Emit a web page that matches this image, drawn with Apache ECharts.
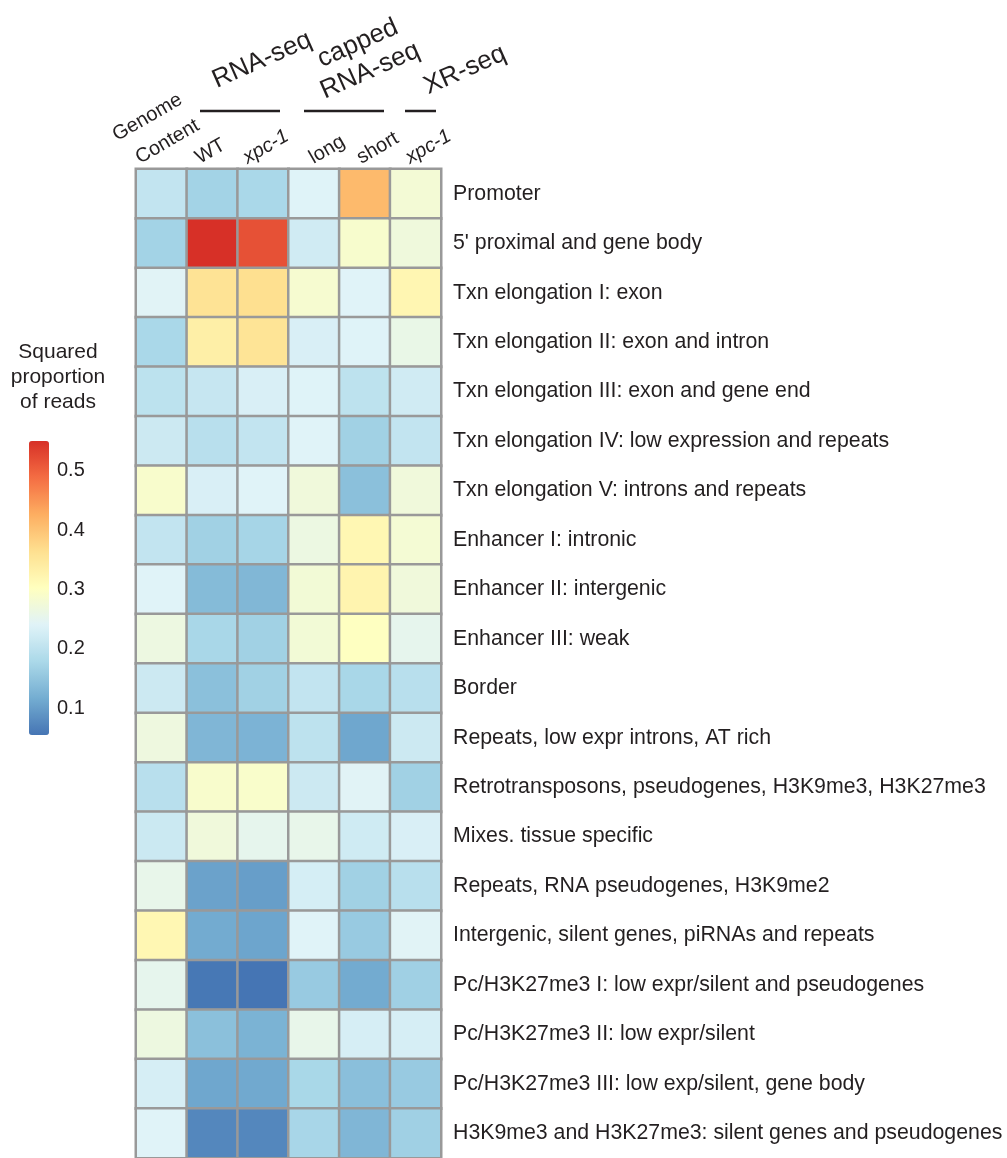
<!DOCTYPE html>
<html>
<head>
<meta charset="utf-8">
<script src="https://cdn.jsdelivr.net/npm/echarts@6/dist/echarts.min.js"></script>
<style>
  html, body { margin: 0; padding: 0; background: #fff; }
  #chart { width: 1007px; height: 1158px; }
</style>
</head>
<body>
<div id="chart"></div>
<script>
// Chromatin states (rows, top to bottom)
const rowNames = [
  'Promoter',
  "5' proximal and gene body",
  'Txn elongation I: exon',
  'Txn elongation II: exon and intron',
  'Txn elongation III: exon and gene end',
  'Txn elongation IV: low expression and repeats',
  'Txn elongation V: introns and repeats',
  'Enhancer I: intronic',
  'Enhancer II: intergenic',
  'Enhancer III: weak',
  'Border',
  'Repeats, low expr introns, AT rich',
  'Retrotransposons, pseudogenes, H3K9me3, H3K27me3',
  'Mixes. tissue specific',
  'Repeats, RNA pseudogenes, H3K9me2',
  'Intergenic, silent genes, piRNAs and repeats',
  'Pc/H3K27me3 I: low expr/silent and pseudogenes',
  'Pc/H3K27me3 II: low expr/silent',
  'Pc/H3K27me3 III: low exp/silent, gene body',
  'H3K9me3 and H3K27me3: silent genes and pseudogenes'
];

// Columns (left to right)
const colKeys = ['genome', 'rna_wt', 'rna_xpc1', 'capped_long', 'capped_short', 'xr_xpc1'];
const colLabels = ['Genome\nContent', 'WT', 'xpc-1', 'long', 'short', 'xpc-1'];

// Squared proportion of reads per state
const genomeContent = [0.206, 0.170, 0.243, 0.178, 0.199, 0.217, 0.288, 0.206, 0.241, 0.266,
                       0.217, 0.268, 0.194, 0.216, 0.256, 0.318, 0.253, 0.267, 0.229, 0.241];
const rnaSeqWT      = [0.170, 0.550, 0.358, 0.334, 0.210, 0.194, 0.232, 0.167, 0.136, 0.176,
                       0.143, 0.130, 0.288, 0.272, 0.105, 0.115, 0.058, 0.143, 0.110, 0.075];
const rnaSeqXpc1    = [0.178, 0.517, 0.364, 0.356, 0.232, 0.206, 0.241, 0.173, 0.131, 0.167,
                       0.167, 0.126, 0.290, 0.253, 0.100, 0.108, 0.055, 0.125, 0.113, 0.075];
const cappedLong    = [0.240, 0.222, 0.284, 0.232, 0.240, 0.241, 0.272, 0.265, 0.277, 0.277,
                       0.206, 0.200, 0.217, 0.256, 0.228, 0.241, 0.157, 0.256, 0.177, 0.175];
const cappedShort   = [0.412, 0.287, 0.241, 0.240, 0.200, 0.167, 0.143, 0.318, 0.324, 0.300,
                       0.176, 0.110, 0.243, 0.221, 0.167, 0.157, 0.115, 0.229, 0.142, 0.130];
const xrSeqXpc1     = [0.279, 0.271, 0.320, 0.259, 0.222, 0.206, 0.272, 0.280, 0.272, 0.253,
                       0.194, 0.217, 0.167, 0.232, 0.194, 0.243, 0.166, 0.229, 0.157, 0.166];

// Colour scale
const legendTicks = [0.1, 0.2, 0.3, 0.4, 0.5];
const scaleMin = 0.055;
const scaleMax = 0.55;
const palette = ['#4575b4', '#74add1', '#abd9e9', '#e0f3f8', '#ffffbf',
                 '#fee090', '#fdae61', '#f46d43', '#d73027'];

const columns = [genomeContent, rnaSeqWT, rnaSeqXpc1, cappedLong, cappedShort, xrSeqXpc1];
const cells = [];
columns.forEach((vals, c) => vals.forEach((v, r) => cells.push([c, r, v])));

const FONT = "'Liberation Sans', Arial, Helvetica, sans-serif";
const INK = '#231f20';

const chart = echarts.init(document.getElementById('chart'), null, { renderer: 'canvas' });

chart.setOption({
  animation: false,
  grid: [
    { left: 136, top: 169, width: 305, height: 990 },
    { left: 29, top: 441, width: 20, height: 294 }
  ],
  xAxis: [
    { type: 'category', gridIndex: 0, data: colKeys, position: 'top',
      axisLine: { show: false }, axisTick: { show: false }, axisLabel: { show: false },
      splitLine: { show: false } },
    { type: 'value', gridIndex: 1, show: false }
  ],
  yAxis: [
    { type: 'category', gridIndex: 0, data: rowNames, inverse: true, position: 'right',
      axisLine: { show: false }, axisTick: { show: false }, splitLine: { show: false },
      axisLabel: { margin: 12, fontSize: 21.3, color: INK, fontFamily: FONT } },
    { type: 'value', gridIndex: 1, position: 'right', min: scaleMin, max: scaleMax,
      axisLine: { show: false }, axisTick: { show: false }, splitLine: { show: false },
      axisLabel: { margin: 8, fontSize: 20, color: INK, fontFamily: FONT,
                   customValues: legendTicks, formatter: v => v.toFixed(1) } }
  ],
  visualMap: {
    type: 'continuous', seriesIndex: 0, min: scaleMin, max: scaleMax,
    calculable: false, orient: 'vertical', left: 14, top: 426,
    itemWidth: 20, itemHeight: 294, text: null, showLabel: false,
    inRange: { color: palette }
  },
  series: [{
    type: 'heatmap', xAxisIndex: 0, yAxisIndex: 0, data: cells,
    itemStyle: { borderColor: '#999999', borderWidth: 2.5 },
    emphasis: { disabled: true }
  }]
});

// Annotation layer: legend title, assay headers, column labels
function textEl(text, x, y, opts) {
  const o = opts || {};
  return {
    type: 'text', x: x, y: y, rotation: (o.rot || 0) * Math.PI / 180, silent: true,
    style: {
      text: text, fill: INK, fontSize: o.size || 20, fontFamily: FONT,
      fontStyle: o.italic ? 'italic' : 'normal',
      align: o.align || 'center', textAlign: o.align || 'center',
      verticalAlign: o.valign || 'middle', textVerticalAlign: o.valign || 'middle',
      lineHeight: o.lh || 25
    }
  };
}
function lineEl(x1, x2, y) {
  return { type: 'line', silent: true, shape: { x1: x1, y1: y, x2: x2, y2: y },
           style: { stroke: INK, lineWidth: 2.5 } };
}

const graphics = [
  textEl('Squared\nproportion\nof reads', 58, 377, { size: 21, lh: 25 }),
  textEl('RNA-seq', 262, 60, { size: 26, rot: 24 }),
  textEl('capped\nRNA-seq', 364, 57, { size: 26, rot: 24, lh: 30 }),
  textEl('XR-seq', 465, 70, { size: 26, rot: 24 }),
  lineEl(200, 280, 111),
  lineEl(304, 384, 111),
  lineEl(405, 436, 111)
];

// Column labels: rotated, each line starting a little left of its column centre
const LABEL_ROT = 30;
const rad = LABEL_ROT * Math.PI / 180;
const labelShift = [-18, -9, -12, 3, 0, -2];
colLabels.forEach((label, i) => {
  const cx = chart.convertToPixel({ xAxisIndex: 0 }, colKeys[i]);
  const lines = label.split('\n').reverse();
  lines.forEach((line, k) => {
    // stack earlier lines above the last one, along the rotated frame
    const up = 31 * k, back = 8.5 * k;
    const x = cx + labelShift[i] - up * Math.sin(rad) - back * Math.cos(rad);
    const y = 170 - up * Math.cos(rad) + back * Math.sin(rad);
    graphics.push(textEl(line, x, y, {
      size: 20, rot: LABEL_ROT, align: 'left', valign: 'bottom',
      italic: line === 'xpc-1'
    }));
  });
});
chart.setOption({ graphic: graphics });
</script>
</body>
</html>
